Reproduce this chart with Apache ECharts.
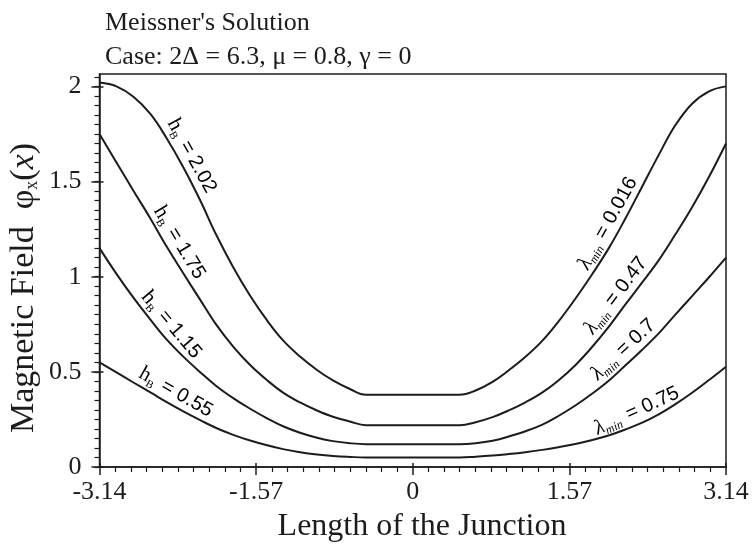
<!DOCTYPE html>
<html>
<head>
<meta charset="utf-8">
<script src="https://cdn.jsdelivr.net/npm/echarts@6/dist/echarts.min.js"></script>
<style>
  html, body { margin: 0; padding: 0; background: #fff; }
  #chart { width: 756px; height: 548px; }
</style>
</head>
<body>
<div id="chart"></div>
<script>
// Position along the junction (x from -pi to pi)
const xPos = [-3.14, -2.97, -2.80, -2.63, -2.47, -2.30, -2.13, -1.97, -1.80, -1.63, -1.46, -1.30, -1.13, -0.96, -0.80, -0.63, -0.47,
              0,
              0.47, 0.63, 0.80, 0.96, 1.13, 1.30, 1.46, 1.63, 1.80, 1.97, 2.13, 2.30, 2.47, 2.63, 2.80, 2.97, 3.14];

// Magnetic field phi_x(x) for each boundary field h_B
const phiHB202 = [2.02, 2.00, 1.945, 1.855, 1.73, 1.575, 1.40, 1.22, 1.05, 0.90, 0.77, 0.665, 0.58, 0.51, 0.455, 0.41, 0.38,
                  0.38,
                  0.38, 0.402, 0.447, 0.507, 0.579, 0.664, 0.764, 0.884, 1.014, 1.154, 1.304, 1.474, 1.644, 1.794, 1.909, 1.974, 2.00];
const phiHB175 = [1.75, 1.60, 1.452, 1.306, 1.161, 1.018, 0.878, 0.748, 0.633, 0.536, 0.456, 0.391, 0.339, 0.297, 0.264, 0.239, 0.22,
                  0.22,
                  0.22, 0.235, 0.262, 0.297, 0.34, 0.392, 0.455, 0.535, 0.632, 0.74, 0.853, 0.97, 1.09, 1.22, 1.365, 1.525, 1.70];
const phiHB115 = [1.15, 1.015, 0.89, 0.775, 0.672, 0.58, 0.498, 0.426, 0.362, 0.306, 0.256, 0.214, 0.18, 0.154, 0.136, 0.125, 0.12,
                  0.12,
                  0.12, 0.125, 0.138, 0.16, 0.188, 0.223, 0.268, 0.323, 0.386, 0.456, 0.533, 0.616, 0.705, 0.799, 0.898, 0.997, 1.10];
const phiHB055 = [0.55, 0.497, 0.444, 0.392, 0.342, 0.292, 0.246, 0.205, 0.169, 0.139, 0.114, 0.094, 0.078, 0.066, 0.058, 0.053, 0.05,
                  0.05,
                  0.05, 0.054, 0.06, 0.068, 0.078, 0.09, 0.104, 0.121, 0.142, 0.167, 0.197, 0.233, 0.278, 0.329, 0.39, 0.457, 0.527];

const curves = [phiHB202, phiHB175, phiHB115, phiHB055];
const hbValues = ['2.02', '1.75', '1.15', '0.55'];
const lambdaValues = ['0.016', '0.47', '0.7', '0.75'];

// Where along each curve its labels sit (x of the curve point under the label)
const hbAnchorX = [-2.33, -2.45, -2.52, -2.44];
const lambdaAnchorX = [2.07, 2.14, 2.20, 2.30];

// Axis ticks
const xTickValues = [-3.14, -1.57, 0, 1.57, 3.14];
const xTickLabels = ['-3.14', '-1.57', '0', '1.57', '3.14'];
const yTickValues = [0, 0.5, 1, 1.5, 2];
const yTickLabels = ['0', '0.5', '1', '1.5', '2'];
const yMinorStep = 0.05;
const yMax = 2.065;

const INK = '#1c1c1c';
const SERIF = '"Liberation Serif", "Times New Roman", serif';
const SANS = '"Liberation Sans", Arial, sans-serif';

const yMinorValues = [];
for (let v = 0; v <= 2.05 + 1e-9; v += yMinorStep) yMinorValues.push(Math.round(v * 100) / 100);

function pairs(ys) { return xPos.map((x, i) => [x, ys[i]]); }

function nearestLabel(values, labels, v) {
  let best = 0;
  for (let i = 1; i < values.length; i++) {
    if (Math.abs(values[i] - v) < Math.abs(values[best] - v)) best = i;
  }
  return labels[best];
}

// value of a curve between its sample points, used only to seat the labels
function curveAt(ys, x) {
  for (let i = 1; i < xPos.length; i++) {
    if (x <= xPos[i]) {
      const t = (x - xPos[i - 1]) / (xPos[i] - xPos[i - 1]);
      return ys[i - 1] + t * (ys[i] - ys[i - 1]);
    }
  }
  return ys[ys.length - 1];
}

const chart = echarts.init(document.getElementById('chart'), null, { renderer: 'canvas' });

function curve(name, ys) {
  return {
    name: name,
    type: 'line',
    data: pairs(ys),
    symbol: 'none',
    smooth: 0.4,
    lineStyle: { color: INK, width: 2 },
    silent: true,
    animation: false
  };
}

const baseX = { type: 'value', min: -3.14, max: 3.14, interval: 1.57, splitLine: { show: false } };
const baseY = { type: 'value', min: 0, max: yMax, splitLine: { show: false } };

chart.setOption({
  backgroundColor: '#fff',
  animation: false,
  title: {
    text: "Meissner's Solution\nCase: 2Δ = 6.3, μ = 0.8, γ = 0",
    left: 100,
    top: 1,
    textStyle: { fontFamily: SERIF, fontSize: 26, fontWeight: 'normal', color: INK, lineHeight: 34 }
  },
  grid: {
    left: 99.5, right: 30, top: 74, bottom: 81,
    show: true, borderColor: INK, borderWidth: 1.5, backgroundColor: 'transparent'
  },
  xAxis: [
    Object.assign({}, baseX, {
      position: 'bottom',
      axisLine: { show: true, onZero: false, lineStyle: { color: INK, width: 1.5 } },
      axisTick: { show: true, inside: false, length: 8, lineStyle: { color: INK, width: 1.5 } },
      minorTick: { show: true, splitNumber: 10, length: 5, lineStyle: { color: INK, width: 1.2 } },
      axisLabel: {
        margin: 12,
        fontFamily: SERIF, fontSize: 26, color: INK,
        formatter: v => nearestLabel(xTickValues, xTickLabels, v)
      }
    }),
    Object.assign({}, baseX, {
      position: 'bottom',
      axisLine: { show: false, onZero: false },
      axisTick: { show: true, inside: true, length: 4, lineStyle: { color: INK, width: 1.5 } },
      axisLabel: { show: false }
    })
  ],
  yAxis: [
    Object.assign({}, baseY, {
      position: 'left',
      axisLine: { show: true, onZero: false, lineStyle: { color: INK, width: 1.5 } },
      axisTick: { show: true, inside: false, length: 8, customValues: yTickValues, lineStyle: { color: INK, width: 1.5 } },
      axisLabel: {
        customValues: yTickValues,
        margin: 18,
        fontFamily: SERIF, fontSize: 26, color: INK,
        formatter: v => nearestLabel(yTickValues, yTickLabels, v)
      }
    }),
    Object.assign({}, baseY, {
      position: 'left',
      axisLine: { show: false, onZero: false },
      axisTick: { show: true, inside: false, length: 5, customValues: yMinorValues, lineStyle: { color: INK, width: 1.2 } },
      axisLabel: { show: false }
    }),
    Object.assign({}, baseY, {
      position: 'left',
      axisLine: { show: false, onZero: false },
      axisTick: { show: true, inside: true, length: 4, customValues: yTickValues, lineStyle: { color: INK, width: 1.5 } },
      axisLabel: { show: false }
    })
  ],
  series: [
    curve('hB = 2.02', phiHB202),
    curve('hB = 1.75', phiHB175),
    curve('hB = 1.15', phiHB115),
    curve('hB = 0.55', phiHB055)
  ]
});

// Curve annotations: each sits on the inner (upper) side of its curve, turned along it
const labelRich = {
  v: { fontFamily: SANS, fontSize: 20, color: INK, lineHeight: 24 },
  h: { fontFamily: SERIF, fontSize: 21, color: INK, lineHeight: 24 },
  l: { fontFamily: SERIF, fontStyle: 'italic', fontSize: 21, color: INK, lineHeight: 24 },
  s: { fontFamily: SERIF, fontSize: 11, color: INK, lineHeight: 24, verticalAlign: 'bottom', padding: [0, 2, 0, 0] },
  si: { fontFamily: SERIF, fontStyle: 'italic', fontSize: 12, color: INK, lineHeight: 24, verticalAlign: 'bottom', padding: [0, 2, 0, 0] }
};
const LABEL_GAP = 13;

function seatLabel(ys, x, text) {
  const p = chart.convertToPixel({ gridIndex: 0 }, [x, curveAt(ys, x)]);
  const p1 = chart.convertToPixel({ gridIndex: 0 }, [x - 0.08, curveAt(ys, x - 0.08)]);
  const p2 = chart.convertToPixel({ gridIndex: 0 }, [x + 0.08, curveAt(ys, x + 0.08)]);
  let dx = p2[0] - p1[0], dy = p2[1] - p1[1];
  const len = Math.hypot(dx, dy);
  dx /= len; dy /= len;
  // normal pointing up on screen
  let nx = dy, ny = -dx;
  if (ny > 0) { nx = -nx; ny = -ny; }
  return {
    type: 'text',
    x: p[0] + nx * LABEL_GAP,
    y: p[1] + ny * LABEL_GAP,
    rotation: -Math.atan2(dy, dx),
    silent: true,
    style: { text: text, rich: labelRich, align: 'center', verticalAlign: 'middle' }
  };
}

const graphics = [];
curves.forEach((ys, i) => {
  graphics.push(seatLabel(ys, hbAnchorX[i], '{h|h}{s|B}{v| = ' + hbValues[i] + '}'));
  graphics.push(seatLabel(ys, lambdaAnchorX[i], '{l|λ}{si|min}{v| = ' + lambdaValues[i] + '}'));
});

// Axis titles
graphics.push({
  type: 'text', x: 24, y: 288, rotation: Math.PI / 2, silent: true,
  style: {
    text: 'Magnetic Field  {f|φ}{sub|x}{f|(}{it|x}{f|)}',
    fontFamily: SERIF, fontSize: 34, fill: INK, align: 'center', verticalAlign: 'middle',
    rich: {
      f: { fontFamily: SERIF, fontSize: 34, color: INK },
      it: { fontFamily: SERIF, fontStyle: 'italic', fontSize: 34, color: INK },
      sub: { fontFamily: SERIF, fontSize: 18, color: INK, verticalAlign: 'bottom', lineHeight: 18 }
    }
  }
});
graphics.push({
  type: 'text', x: 422, y: 527, silent: true,
  style: { text: 'Length of the Junction', fontFamily: SERIF, fontSize: 32, fill: INK, align: 'center', verticalAlign: 'middle' }
});

chart.setOption({ graphic: graphics });
</script>
</body>
</html>
